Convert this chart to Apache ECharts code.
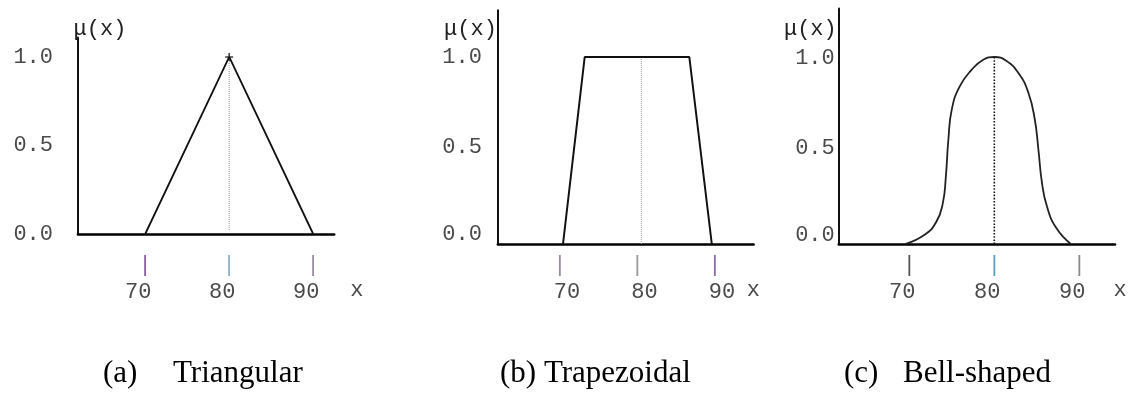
<!DOCTYPE html>
<html>
<head>
<meta charset="utf-8">
<script src="https://cdn.jsdelivr.net/npm/echarts@6/dist/echarts.min.js"></script>
<style>
  html, body { margin: 0; padding: 0; background: #fff; }
  #fig { width: 1131px; height: 394px; }
</style>
</head>
<body>
<div id="fig"></div>
<script>
// membership functions, x in the same units as the tick labels
const xTicks = [70, 80, 90]
const yTicks = [0, 0.5, 1]

const triangular = [[70, 0], [80, 1], [90, 0]]
const triPeak = [80, 1]
const trapezoidal = [[70.4, 0], [73.2, 1], [86.7, 1], [89.6, 0]]
const trapCentre = [[80.5, 1], [80.5, 0]]
const bellShaped = [
  [69.5, 0], [71.8, 0.05], [73.2, 0.12], [73.95, 0.22], [74.3, 0.36],
  [74.6, 0.56], [75.0, 0.72], [75.9, 0.84], [77.3, 0.93], [78.7, 0.985],
  [80, 1], [81.4, 0.98], [82.9, 0.91], [84.0, 0.81], [84.75, 0.67],
  [85.2, 0.5], [85.6, 0.33], [86.2, 0.2], [87.3, 0.085], [89, 0]
]
const bellCentre = [[80, 1], [80, -0.02]]
const triCentre = [[80, 1], [80, 0.02]]

const captions = ['(a)', 'Triangular', '(b) Trapezoidal', '(c)', 'Bell-shaped']

const MONO = 'Liberation Mono'
const SERIF = 'Liberation Serif'
const LABEL_GREY = '#4a4a4a'

// x axis: a "|" glyph sits under each value, number below it
function xAxisFor(idx, min, max, tickColors, shift, margin, nameGap, nameTop) {
  const rich = {
    n: {
      fontFamily: MONO, fontSize: 22, lineHeight: 26, color: LABEL_GREY,
      padding: shift < 0 ? [0, -2 * shift, 0, 0] : [0, 0, 0, 2 * shift],
    },
  }
  tickColors.forEach((c, i) => {
    rich['t' + i] = { fontFamily: MONO, fontSize: 22, lineHeight: 28, color: c }
  })
  return {
    gridIndex: idx,
    type: 'value',
    min: min,
    max: max,
    name: 'x',
    nameLocation: 'end',
    nameGap: nameGap,
    nameTextStyle: {
      fontFamily: MONO, fontSize: 22, color: LABEL_GREY,
      verticalAlign: 'top', padding: [nameTop, 0, 0, 0],
    },
    axisLine: { onZero: false, lineStyle: { color: '#000', width: 2.6 } },
    axisTick: { show: false },
    splitLine: { show: false },
    axisLabel: {
      customValues: xTicks,
      margin: margin,
      formatter: (v) => `{t${xTicks.indexOf(v)}||}\n{n|${v}}`,
      rich: rich,
    },
  }
}

// y axis, lift = how far each label sits above its value (px)
function yAxisFor(idx, max, margin, nameAlign, namePad, nameGap, lift) {
  const rich = {}
  yTicks.forEach((t, i) => {
    rich['y' + i] = {
      fontFamily: MONO, fontSize: 22, color: LABEL_GREY,
      padding: [0, 0, 2 * lift[i], 0],
    }
  })
  return {
    gridIndex: idx,
    type: 'value',
    min: 0,
    max: max,
    name: 'μ(x)',
    nameLocation: 'end',
    nameGap: nameGap,
    nameTextStyle: {
      fontFamily: MONO, fontSize: 22, color: '#222',
      align: nameAlign, verticalAlign: 'middle', padding: namePad,
    },
    axisLine: { show: true, lineStyle: { color: '#111', width: 2 } },
    axisTick: { show: false },
    splitLine: { show: false },
    axisLabel: {
      customValues: yTicks,
      margin: margin,
      formatter: (v) => `{y${yTicks.indexOf(v)}|${v.toFixed(1)}}`,
      rich: rich,
    },
  }
}

function lineSeries(idx, data, style, extra) {
  return Object.assign({
    type: 'line',
    xAxisIndex: idx,
    yAxisIndex: idx,
    data: data,
    symbol: 'none',
    lineStyle: style,
    silent: true,
    animation: false,
  }, extra || {})
}

const capStyle = { fontFamily: SERIF, fontSize: 31, fontWeight: 'normal', color: '#000' }
const capLeft = [103, 173, 500, 844, 903]

const option = {
  backgroundColor: '#fff',
  animation: false,
  title: captions.map((t, i) => ({
    text: t, left: capLeft[i], top: 358, padding: 0, textStyle: capStyle,
  })),
  grid: [
    { left: 78, top: 37.5, width: 256.2, height: 196.5, outerBoundsMode: 'none' },
    { left: 497.9, top: 10.25, width: 255.75, height: 233.75, outerBoundsMode: 'none' },
    { left: 838.75, top: 8.4, width: 276.25, height: 235.6, outerBoundsMode: 'none' },
  ],
  xAxis: [
    xAxisFor(0, 62, 92.5, ['#8b5fa3', '#8fb0c8', '#9a8aa6'], -7, 17, 16, 45),
    xAxisFor(1, 62, 95, ['#9a8aa6', '#999999', '#8b6aa0'], 7, 7, -7, 35),
    xAxisFor(2, 61.7, 94.2, ['#555555', '#5aa0c0', '#8a8a8a'], -7, 7, -1.5, 35),
  ],
  yAxis: [
    yAxisFor(0, 1.11, 25, 'center', [0, 0, 0, 44], 8.5, [0, 0, 0]),
    yAxisFor(1, 1.25, 16, 'right', [0, 1, 0, 0], -18.75, [10, 3, 0]),
    yAxisFor(2, 1.26, 4, 'right', [0, 2, 0, 0], -20.6, [9, 2.5, -1]),
  ],
  series: [
    lineSeries(0, triCentre, { color: '#9a9a9a', width: 1, type: 'dotted' }),
    lineSeries(0, triangular, { color: '#111', width: 1.8 }),
    {
      type: 'scatter', xAxisIndex: 0, yAxisIndex: 0, data: [triPeak],
      symbol: 'path://M4,0H6V4H10V6H6V10H4V6H0V4H4Z', symbolSize: 8,
      itemStyle: { color: '#111' }, silent: true, animation: false,
    },
    lineSeries(1, trapCentre, { color: '#9a9a9a', width: 1, type: 'dotted' }),
    lineSeries(1, trapezoidal, { color: '#111', width: 2 }),
    lineSeries(2, bellCentre, { color: '#111', width: 1.6, type: 'dotted' }),
    lineSeries(2, bellShaped, { color: '#222', width: 1.8 }, { smooth: 0.5 }),
  ],
}

const fig = echarts.init(document.getElementById('fig'), null, { renderer: 'canvas' })
fig.setOption(option)
</script>
</body>
</html>
